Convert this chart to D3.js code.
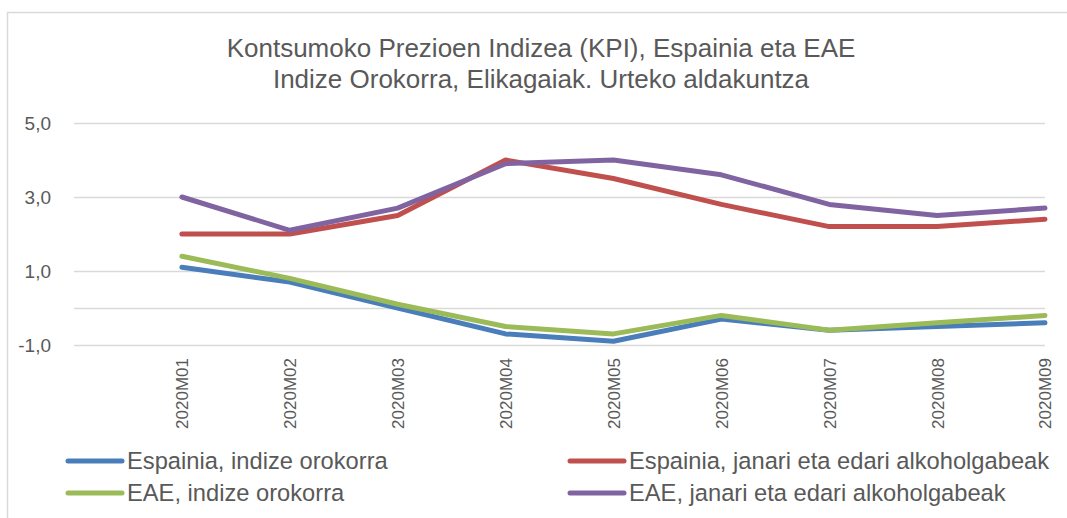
<!DOCTYPE html>
<html>
<head>
<meta charset="utf-8">
<script src="https://cdn.jsdelivr.net/npm/d3@7"></script>
<style>
  body { margin: 0; background: #fff; }
  svg { display: block; font-family: "Liberation Sans", Arial, sans-serif; }
</style>
</head>
<body>
<div id="chart"></div>
<script>
const WIDTH = 1067;
const HEIGHT = 518;
const TEXT_COLOR = "#595959";
const GRID_COLOR = "#d9d9d9";
const FONT = "Liberation Sans, Arial, sans-serif";

// data
const months = ["2020M01", "2020M02", "2020M03", "2020M04", "2020M05", "2020M06", "2020M07", "2020M08", "2020M09"];
const espainiaOrokorra = [1.1, 0.7, 0.0, -0.7, -0.9, -0.3, -0.6, -0.5, -0.4];
const espainiaJanari = [2.0, 2.0, 2.5, 4.0, 3.5, 2.8, 2.2, 2.2, 2.4];
const eaeOrokorra = [1.4, 0.8, 0.1, -0.5, -0.7, -0.2, -0.6, -0.4, -0.2];
const eaeJanari = [3.0, 2.1, 2.7, 3.9, 4.0, 3.6, 2.8, 2.5, 2.7];
const yTicks = [-1, 1, 3, 5];
const titleLines = ["Kontsumoko Prezioen Indizea (KPI), Espainia eta EAE", "Indize Orokorra, Elikagaiak. Urteko aldakuntza"];

const series = [
  { name: "Espainia, indize orokorra", values: espainiaOrokorra, color: "#4a7ebb" },
  { name: "Espainia, janari eta edari alkoholgabeak", values: espainiaJanari, color: "#c0504d" },
  { name: "EAE, indize orokorra", values: eaeOrokorra, color: "#9bbb59" },
  { name: "EAE, janari eta edari alkoholgabeak", values: eaeJanari, color: "#8064a2" }
];
const drawOrder = [0, 2, 1, 3];

const plot = { left: 74, right: 1045, top: 123, bottom: 345 };

const svg = d3.select("#chart")
  .append("svg")
  .attr("width", WIDTH)
  .attr("height", HEIGHT);

// chart border
svg.append("rect")
  .attr("x", 7.5)
  .attr("y", 12.5)
  .attr("width", WIDTH)
  .attr("height", HEIGHT)
  .attr("fill", "none")
  .attr("stroke", GRID_COLOR)
  .attr("stroke-width", 1.5);

// title
svg.append("g")
  .selectAll("text")
  .data(titleLines)
  .enter()
  .append("text")
  .attr("x", 541)
  .attr("y", (d, i) => 57 + i * 31)
  .attr("text-anchor", "middle")
  .attr("font-size", 26)
  .attr("fill", TEXT_COLOR)
  .text(d => d);

// an empty first slot, categories sit on the points after it
const x = d3.scalePoint()
  .domain([""].concat(months))
  .range([plot.left, plot.right]);

const y = d3.scaleLinear()
  .domain([-1, 5])
  .range([plot.bottom, plot.top]);

// gridlines (plus the zero axis line)
svg.append("g")
  .selectAll("line")
  .data(yTicks.concat([0]))
  .enter()
  .append("line")
  .attr("x1", plot.left)
  .attr("x2", plot.right)
  .attr("y1", d => Math.round(y(d)) + 0.5)
  .attr("y2", d => Math.round(y(d)) + 0.5)
  .attr("stroke", GRID_COLOR)
  .attr("stroke-width", 1.3);

// y labels
const yAxis = d3.axisLeft(y)
  .tickValues(yTicks)
  .tickSize(0)
  .tickPadding(0)
  .tickFormat(d => d3.format(".1f")(d).replace(".", ",").replace("−", "-"));

svg.append("g")
  .attr("transform", "translate(51,0)")
  .call(yAxis)
  .call(g => g.select(".domain").remove())
  .call(g => g.selectAll("text")
    .attr("font-size", 19)
    .attr("font-family", FONT)
    .attr("fill", TEXT_COLOR));

// x labels, rotated
const xAxis = d3.axisBottom(x)
  .tickValues(months)
  .tickSize(0)
  .tickPadding(0);

svg.append("g")
  .attr("transform", `translate(0,${plot.bottom + 13})`)
  .call(xAxis)
  .call(g => g.select(".domain").remove())
  .call(g => g.selectAll("text")
    .attr("transform", "rotate(-90)")
    .attr("text-anchor", "end")
    .attr("dy", "0.35em")
    .attr("y", 0)
    .attr("x", 0)
    .attr("font-size", 17)
    .attr("font-family", FONT)
    .attr("fill", TEXT_COLOR));

// lines
const line = d3.line()
  .x((d, i) => x(months[i]))
  .y(d => y(d));

svg.append("g")
  .selectAll("path")
  .data(drawOrder.map(i => series[i]))
  .enter()
  .append("path")
  .attr("d", d => line(d.values))
  .attr("fill", "none")
  .attr("stroke", d => d.color)
  .attr("stroke-width", 5)
  .attr("stroke-linecap", "round")
  .attr("stroke-linejoin", "round");

// legend
const legendPos = [[68, 461], [570, 461], [68, 493], [570, 493]];
const legend = svg.append("g")
  .selectAll("g")
  .data(series)
  .enter()
  .append("g")
  .attr("transform", (d, i) => `translate(${legendPos[i][0]},${legendPos[i][1]})`);

legend.append("line")
  .attr("x1", 0)
  .attr("x2", 54)
  .attr("stroke", d => d.color)
  .attr("stroke-width", 5)
  .attr("stroke-linecap", "round");

legend.append("text")
  .attr("x", 59)
  .attr("dy", "0.35em")
  .attr("font-size", 23.7)
  .attr("fill", TEXT_COLOR)
  .text(d => d.name);
</script>
</body>
</html>
